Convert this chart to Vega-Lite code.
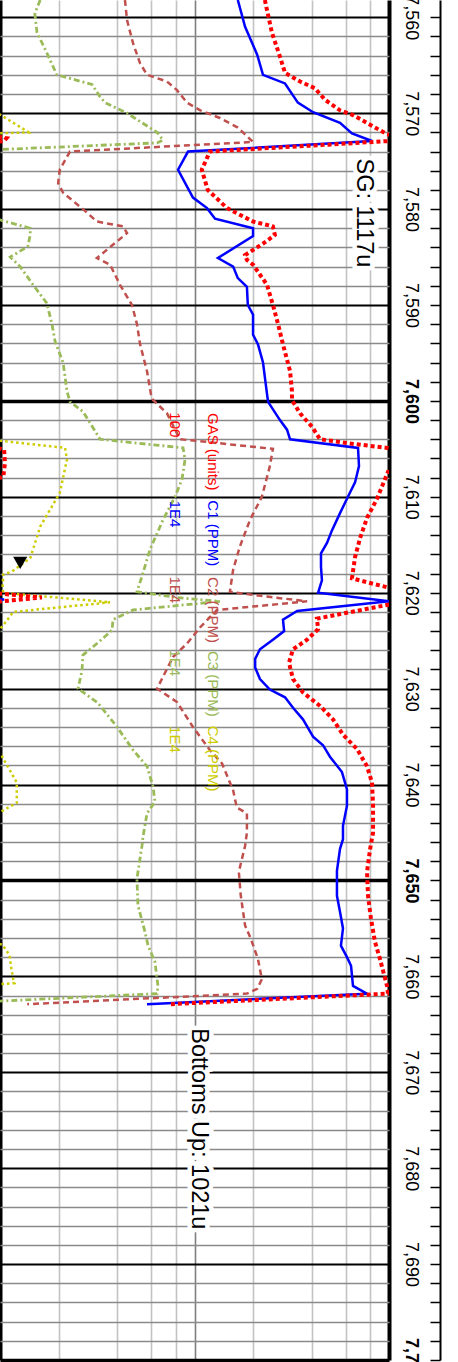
{
"$schema":"https://vega.github.io/schema/vega-lite/v6.json",
"width":389,"height":1360,
"autosize":{"type":"none"},
"padding":{"left":0,"top":0,"right":69,"bottom":2},
"background":"white",
"config":{"view":{"stroke":null},"font":"Liberation Sans","text":{"font":"Liberation Sans"}},
"datasets":{
"curves":[
{"s":"GAS","g":"a","d":7558.2,"v":23.0},{"s":"GAS","g":"a","d":7561.6,"v":25.0},{"s":"GAS","g":"a","d":7564.1,"v":27.5},{"s":"GAS","g":"a","d":7565.8,"v":29.2},{"s":"GAS","g":"a","d":7566.7,"v":34.9},{"s":"GAS","g":"a","d":7567.4,"v":41.6},{"s":"GAS","g":"a","d":7568.6,"v":46.9},{"s":"GAS","g":"a","d":7569.7,"v":56.0},{"s":"GAS","g":"a","d":7570.2,"v":65.3},{"s":"GAS","g":"a","d":7571.2,"v":80.0},{"s":"GAS","g":"a","d":7572.2,"v":97.7},{"s":"GAS","g":"a","d":7572.55,"v":120},{"s":"GAS","g":"a","d":7572.9,"v":101},{"s":"GAS","g":"a","d":7574.0,"v":12.0},{"s":"GAS","g":"a","d":7575.9,"v":10.9},{"s":"GAS","g":"a","d":7578.0,"v":11.7},{"s":"GAS","g":"a","d":7579.9,"v":14.7},{"s":"GAS","g":"a","d":7581.3,"v":20.0},{"s":"GAS","g":"a","d":7581.8,"v":25.3},{"s":"GAS","g":"a","d":7582.7,"v":25.9},{"s":"GAS","g":"a","d":7583.6,"v":22.5},{"s":"GAS","g":"a","d":7584.8,"v":18.2},{"s":"GAS","g":"a","d":7585.3,"v":18.6},{"s":"GAS","g":"a","d":7585.8,"v":20.0},{"s":"GAS","g":"a","d":7587.9,"v":23.6},{"s":"GAS","g":"a","d":7590.0,"v":25.3},{"s":"GAS","g":"a","d":7592.0,"v":26.9},{"s":"GAS","g":"a","d":7594.1,"v":28.5},{"s":"GAS","g":"a","d":7596.9,"v":31.0},{"s":"GAS","g":"a","d":7599.0,"v":31.7},{"s":"GAS","g":"a","d":7599.9,"v":31.7},{"s":"GAS","g":"a","d":7601.3,"v":34.9},{"s":"GAS","g":"a","d":7602.7,"v":40.2},{"s":"GAS","g":"a","d":7604.0,"v":44.2},{"s":"GAS","g":"a","d":7604.4,"v":60.8},{"s":"GAS","g":"a","d":7604.9,"v":97.7},{"s":"GAS","g":"a","d":7605.5,"v":130},{"s":"GAS","g":"a","d":7607.0,"v":130},{"s":"GAS","g":"a","d":7607.4,"v":98.8},{"s":"GAS","g":"a","d":7610.2,"v":86.8},{"s":"GAS","g":"a","d":7612.2,"v":77.1},{"s":"GAS","g":"a","d":7614.3,"v":71.0},{"s":"GAS","g":"a","d":7616.3,"v":66.9},{"s":"GAS","g":"a","d":7618.5,"v":64.5},{"s":"GAS","g":"a","d":7619.8,"v":115},{"s":"GAS","g":"a","d":7621.0,"v":115},{"s":"GAS","g":"a","d":7622.7,"v":42.6},{"s":"GAS","g":"a","d":7623.8,"v":43.2},{"s":"GAS","g":"a","d":7624.9,"v":37.9},{"s":"GAS","g":"a","d":7625.9,"v":32.1},{"s":"GAS","g":"a","d":7627.3,"v":30.6},{"s":"GAS","g":"a","d":7629.0,"v":32.1},{"s":"GAS","g":"a","d":7630.4,"v":36.1},{"s":"GAS","g":"a","d":7631.8,"v":44.2},{"s":"GAS","g":"a","d":7633.2,"v":51.5},{"s":"GAS","g":"a","d":7634.8,"v":58.0},{"s":"GAS","g":"a","d":7636.3,"v":68.5},{"s":"GAS","g":"a","d":7638.1,"v":77.1},{"s":"GAS","g":"a","d":7639.8,"v":81.8},{"s":"GAS","g":"a","d":7642.2,"v":82.8},{"s":"GAS","g":"a","d":7645.0,"v":82.8},{"s":"GAS","g":"a","d":7646.7,"v":80.0},{"s":"GAS","g":"a","d":7649.1,"v":77.1},{"s":"GAS","g":"a","d":7651.6,"v":78.0},{"s":"GAS","g":"a","d":7654.0,"v":80.8},{"s":"GAS","g":"a","d":7656.4,"v":84.7},{"s":"GAS","g":"a","d":7658.2,"v":89.9},{"s":"GAS","g":"a","d":7661.0,"v":97.7},{"s":"GAS","g":"a","d":7661.8,"v":98.8},{"s":"GAS","g":"a","d":7662.9,"v":7.48},
{"s":"GAS","g":"w1","d":7572.35,"v":0.9},{"s":"GAS","g":"w1","d":7572.6,"v":1.08},{"s":"GAS","g":"w1","d":7572.9,"v":1.05},{"s":"GAS","g":"w1","d":7573.1,"v":0.9},
{"s":"GAS","g":"w2","d":7604.7,"v":0.9},{"s":"GAS","g":"w2","d":7605.1,"v":1.05},{"s":"GAS","g":"w2","d":7606.5,"v":1.06},{"s":"GAS","g":"w2","d":7607.9,"v":1.04},{"s":"GAS","g":"w2","d":7608.3,"v":0.9},
{"s":"GAS","g":"w3","d":7620.0,"v":0.9},{"s":"GAS","g":"w3","d":7620.5,"v":1.64},{"s":"GAS","g":"w3","d":7621.0,"v":0.9},
{"s":"C1","g":"a","d":7558.2,"v":16.7},{"s":"C1","g":"a","d":7561.0,"v":18.2},{"s":"C1","g":"a","d":7563.9,"v":21.0},{"s":"C1","g":"a","d":7566.0,"v":22.5},{"s":"C1","g":"a","d":7566.9,"v":29.2},{"s":"C1","g":"a","d":7568.9,"v":34.0},{"s":"C1","g":"a","d":7569.9,"v":40.7},{"s":"C1","g":"a","d":7571.0,"v":56.0},{"s":"C1","g":"a","d":7572.1,"v":64.5},{"s":"C1","g":"a","d":7572.9,"v":81.8},{"s":"C1","g":"a","d":7574.0,"v":9.26},{"s":"C1","g":"a","d":7575.9,"v":8.23},{"s":"C1","g":"a","d":7578.8,"v":9.82},{"s":"C1","g":"a","d":7579.9,"v":11.6},{"s":"C1","g":"a","d":7581.0,"v":12.75},{"s":"C1","g":"a","d":7582.0,"v":20.0},{"s":"C1","g":"a","d":7582.8,"v":20.0},{"s":"C1","g":"a","d":7585.1,"v":13.2},{"s":"C1","g":"a","d":7586.0,"v":15.8},{"s":"C1","g":"a","d":7587.2,"v":16.7},{"s":"C1","g":"a","d":7588.1,"v":18.6},{"s":"C1","g":"a","d":7590.0,"v":18.8},{"s":"C1","g":"a","d":7591.0,"v":20.0},{"s":"C1","g":"a","d":7593.1,"v":20.0},{"s":"C1","g":"a","d":7594.1,"v":21.2},{"s":"C1","g":"a","d":7596.0,"v":22.5},{"s":"C1","g":"a","d":7599.3,"v":23.6},{"s":"C1","g":"a","d":7600.1,"v":23.9},{"s":"C1","g":"a","d":7602.0,"v":27.5},{"s":"C1","g":"a","d":7603.0,"v":29.9},{"s":"C1","g":"a","d":7604.0,"v":31.0},{"s":"C1","g":"a","d":7604.9,"v":69.3},{"s":"C1","g":"a","d":7606.8,"v":70.1},{"s":"C1","g":"a","d":7608.5,"v":66.9},{"s":"C1","g":"a","d":7610.0,"v":61.5},{"s":"C1","g":"a","d":7611.7,"v":56.0},{"s":"C1","g":"a","d":7613.5,"v":50.9},{"s":"C1","g":"a","d":7614.8,"v":48.0},{"s":"C1","g":"a","d":7615.9,"v":44.7},{"s":"C1","g":"a","d":7617.3,"v":44.7},{"s":"C1","g":"a","d":7618.7,"v":45.2},{"s":"C1","g":"a","d":7620.0,"v":43.2},{"s":"C1","g":"a","d":7620.9,"v":100},{"s":"C1","g":"a","d":7621.9,"v":33.7},{"s":"C1","g":"a","d":7622.8,"v":28.5},{"s":"C1","g":"a","d":7624.0,"v":28.9},{"s":"C1","g":"a","d":7624.9,"v":25.3},{"s":"C1","g":"a","d":7625.9,"v":21.7},{"s":"C1","g":"a","d":7626.9,"v":20.5},{"s":"C1","g":"a","d":7627.8,"v":20.5},{"s":"C1","g":"a","d":7629.0,"v":21.7},{"s":"C1","g":"a","d":7630.1,"v":24.4},{"s":"C1","g":"a","d":7630.9,"v":29.2},{"s":"C1","g":"a","d":7632.0,"v":32.1},{"s":"C1","g":"a","d":7633.2,"v":36.1},{"s":"C1","g":"a","d":7635.0,"v":40.7},{"s":"C1","g":"a","d":7635.9,"v":45.8},{"s":"C1","g":"a","d":7637.1,"v":49.7},{"s":"C1","g":"a","d":7638.7,"v":57.3},{"s":"C1","g":"a","d":7640.5,"v":60.8},{"s":"C1","g":"a","d":7642.2,"v":60.8},{"s":"C1","g":"a","d":7644.3,"v":58.0},{"s":"C1","g":"a","d":7645.7,"v":58.0},{"s":"C1","g":"a","d":7646.7,"v":56.0},{"s":"C1","g":"a","d":7649.0,"v":54.0},{"s":"C1","g":"a","d":7651.6,"v":54.0},{"s":"C1","g":"a","d":7653.3,"v":56.0},{"s":"C1","g":"a","d":7655.0,"v":58.0},{"s":"C1","g":"a","d":7656.8,"v":56.6},{"s":"C1","g":"a","d":7658.0,"v":60.8},{"s":"C1","g":"a","d":7658.9,"v":63.8},{"s":"C1","g":"a","d":7661.0,"v":65.3},{"s":"C1","g":"a","d":7661.8,"v":77.1},{"s":"C1","g":"a","d":7662.9,"v":5.70},
{"s":"C1","g":"w1","d":7620.6,"v":0.9},{"s":"C1","g":"w1","d":7620.7,"v":1.05},{"s":"C1","g":"w1","d":7620.8,"v":0.9},
{"s":"C2","g":"a","d":7558.2,"v":4.39},{"s":"C2","g":"a","d":7560.3,"v":4.50},{"s":"C2","g":"a","d":7562.7,"v":4.83},{"s":"C2","g":"a","d":7564.8,"v":5.25},{"s":"C2","g":"a","d":7566.0,"v":5.70},{"s":"C2","g":"a","d":7566.7,"v":7.22},{"s":"C2","g":"a","d":7567.6,"v":8.13},{"s":"C2","g":"a","d":7568.9,"v":9.15},{"s":"C2","g":"a","d":7569.7,"v":10.7},{"s":"C2","g":"a","d":7570.5,"v":13.5},{"s":"C2","g":"a","d":7571.5,"v":16.7},{"s":"C2","g":"a","d":7573.0,"v":20.0},{"s":"C2","g":"a","d":7574.0,"v":2.29},{"s":"C2","g":"a","d":7575.9,"v":2.03},{"s":"C2","g":"a","d":7577.3,"v":1.99},{"s":"C2","g":"a","d":7578.3,"v":2.11},{"s":"C2","g":"a","d":7580.0,"v":2.67},{"s":"C2","g":"a","d":7581.3,"v":3.15},{"s":"C2","g":"a","d":7581.8,"v":4.29},{"s":"C2","g":"a","d":7582.5,"v":4.50},{"s":"C2","g":"a","d":7585.1,"v":3.15},{"s":"C2","g":"a","d":7585.8,"v":3.68},{"s":"C2","g":"a","d":7587.9,"v":4.14},{"s":"C2","g":"a","d":7590.0,"v":4.77},{"s":"C2","g":"a","d":7592.0,"v":5.06},{"s":"C2","g":"a","d":7594.1,"v":5.25},{"s":"C2","g":"a","d":7596.9,"v":5.70},{"s":"C2","g":"a","d":7599.3,"v":5.97},{"s":"C2","g":"a","d":7599.9,"v":6.12},{"s":"C2","g":"a","d":7601.3,"v":7.22},{"s":"C2","g":"a","d":7604.0,"v":8.42},{"s":"C2","g":"a","d":7604.2,"v":10.7},{"s":"C2","g":"a","d":7604.5,"v":14.7},{"s":"C2","g":"a","d":7605.0,"v":25.3},{"s":"C2","g":"a","d":7606.8,"v":24.4},{"s":"C2","g":"a","d":7610.0,"v":22.2},{"s":"C2","g":"a","d":7612.4,"v":19.3},{"s":"C2","g":"a","d":7615.2,"v":17.1},{"s":"C2","g":"a","d":7617.6,"v":15.8},{"s":"C2","g":"a","d":7619.9,"v":15.2},{"s":"C2","g":"a","d":7620.4,"v":23.6},{"s":"C2","g":"a","d":7620.9,"v":37.9},{"s":"C2","g":"a","d":7621.8,"v":13.05},{"s":"C2","g":"a","d":7623.6,"v":10.7},{"s":"C2","g":"a","d":7625.3,"v":9.15},{"s":"C2","g":"a","d":7626.7,"v":7.75},{"s":"C2","g":"a","d":7630.0,"v":6.42},{"s":"C2","g":"a","d":7631.4,"v":8.13},{"s":"C2","g":"a","d":7634.0,"v":9.82},{"s":"C2","g":"a","d":7636.4,"v":12.0},{"s":"C2","g":"a","d":7637.8,"v":13.85},{"s":"C2","g":"a","d":7640.6,"v":15.8},{"s":"C2","g":"a","d":7642.4,"v":16.5},{"s":"C2","g":"a","d":7643.0,"v":18.6},{"s":"C2","g":"a","d":7645.0,"v":18.6},{"s":"C2","g":"a","d":7646.4,"v":18.2},{"s":"C2","g":"a","d":7649.1,"v":16.9},{"s":"C2","g":"a","d":7651.6,"v":17.3},{"s":"C2","g":"a","d":7654.7,"v":18.2},{"s":"C2","g":"a","d":7656.1,"v":19.5},{"s":"C2","g":"a","d":7658.2,"v":21.2},{"s":"C2","g":"a","d":7660.3,"v":22.2},{"s":"C2","g":"a","d":7661.3,"v":21.0},{"s":"C2","g":"a","d":7661.8,"v":18.6},{"s":"C2","g":"a","d":7662.9,"v":1.38},
{"s":"C3","g":"a","d":7558.2,"v":1.61},{"s":"C3","g":"a","d":7559.6,"v":1.51},{"s":"C3","g":"a","d":7561.6,"v":1.55},{"s":"C3","g":"a","d":7563.7,"v":1.74},{"s":"C3","g":"a","d":7566.0,"v":1.96},{"s":"C3","g":"a","d":7567.0,"v":2.97},{"s":"C3","g":"a","d":7568.3,"v":3.27},{"s":"C3","g":"a","d":7568.9,"v":3.47},{"s":"C3","g":"a","d":7570.0,"v":4.50},{"s":"C3","g":"a","d":7572.0,"v":6.42},{"s":"C3","g":"a","d":7572.8,"v":6.89},{"s":"C3","g":"a","d":7573.1,"v":6.42},{"s":"C3","g":"a","d":7573.8,"v":0.97},{"s":"C3","g":"a","d":7574.2,"v":0.85},{"s":"C3","g":"a","d":7580.8,"v":0.85},{"s":"C3","g":"a","d":7581.0,"v":0.95},{"s":"C3","g":"a","d":7582.0,"v":1.43},{"s":"C3","g":"a","d":7582.7,"v":1.43},{"s":"C3","g":"a","d":7583.9,"v":1.39},{"s":"C3","g":"a","d":7585.0,"v":1.13},{"s":"C3","g":"a","d":7586.0,"v":1.27},{"s":"C3","g":"a","d":7587.9,"v":1.48},{"s":"C3","g":"a","d":7589.8,"v":1.74},{"s":"C3","g":"a","d":7592.0,"v":1.85},{"s":"C3","g":"a","d":7593.8,"v":1.92},{"s":"C3","g":"a","d":7596.0,"v":2.11},{"s":"C3","g":"a","d":7599.0,"v":2.21},{"s":"C3","g":"a","d":7600.1,"v":2.29},{"s":"C3","g":"a","d":7601.1,"v":2.67},{"s":"C3","g":"a","d":7604.0,"v":3.27},{"s":"C3","g":"a","d":7604.9,"v":8.73},{"s":"C3","g":"a","d":7606.1,"v":8.94},{"s":"C3","g":"a","d":7608.2,"v":8.62},{"s":"C3","g":"a","d":7610.0,"v":7.94},{"s":"C3","g":"a","d":7612.4,"v":6.89},{"s":"C3","g":"a","d":7615.5,"v":5.90},{"s":"C3","g":"a","d":7618.3,"v":5.37},{"s":"C3","g":"a","d":7619.9,"v":5.06},{"s":"C3","g":"a","d":7620.5,"v":8.13},{"s":"C3","g":"a","d":7620.9,"v":13.5},{"s":"C3","g":"a","d":7621.8,"v":4.83},{"s":"C3","g":"a","d":7622.8,"v":3.81},{"s":"C3","g":"a","d":7623.9,"v":3.77},{"s":"C3","g":"a","d":7625.3,"v":3.15},{"s":"C3","g":"a","d":7626.5,"v":2.67},{"s":"C3","g":"a","d":7628.1,"v":2.64},{"s":"C3","g":"a","d":7630.0,"v":2.52},{"s":"C3","g":"a","d":7631.5,"v":3.19},{"s":"C3","g":"a","d":7634.0,"v":4.00},{"s":"C3","g":"a","d":7636.4,"v":4.83},{"s":"C3","g":"a","d":7638.1,"v":5.70},{"s":"C3","g":"a","d":7640.2,"v":6.12},{"s":"C3","g":"a","d":7641.8,"v":6.26},{"s":"C3","g":"a","d":7643.0,"v":5.70},{"s":"C3","g":"a","d":7645.4,"v":5.44},{"s":"C3","g":"a","d":7646.4,"v":5.37},{"s":"C3","g":"a","d":7649.8,"v":5.06},{"s":"C3","g":"a","d":7652.6,"v":5.12},{"s":"C3","g":"a","d":7655.4,"v":5.57},{"s":"C3","g":"a","d":7656.8,"v":5.77},{"s":"C3","g":"a","d":7658.5,"v":6.26},{"s":"C3","g":"a","d":7661.0,"v":6.49},{"s":"C3","g":"a","d":7661.8,"v":6.42},{"s":"C3","g":"a","d":7662.6,"v":0.95},
{"s":"C4","g":"a","d":7558.2,"v":0.9},{"s":"C4","g":"a","d":7570.0,"v":0.9},{"s":"C4","g":"a","d":7570.15,"v":1.0},{"s":"C4","g":"a","d":7571.9,"v":1.38},{"s":"C4","g":"a","d":7572.0,"v":1.40},{"s":"C4","g":"a","d":7572.1,"v":1.0},{"s":"C4","g":"a","d":7572.3,"v":0.9},{"s":"C4","g":"a","d":7604.0,"v":0.9},{"s":"C4","g":"a","d":7604.15,"v":1.0},{"s":"C4","g":"a","d":7604.9,"v":2.16},{"s":"C4","g":"a","d":7606.1,"v":2.21},{"s":"C4","g":"a","d":7609.6,"v":2.03},{"s":"C4","g":"a","d":7613.1,"v":1.61},{"s":"C4","g":"a","d":7616.4,"v":1.43},{"s":"C4","g":"a","d":7617.8,"v":1.15},{"s":"C4","g":"a","d":7618.1,"v":1.04},{"s":"C4","g":"a","d":7619.5,"v":1.03},{"s":"C4","g":"a","d":7620.0,"v":1.04},{"s":"C4","g":"a","d":7621.0,"v":3.68},{"s":"C4","g":"a","d":7622.0,"v":1.17},{"s":"C4","g":"a","d":7623.5,"v":1.03},{"s":"C4","g":"a","d":7624.2,"v":0.95},{"s":"C4","g":"a","d":7624.6,"v":0.9},{"s":"C4","g":"a","d":7636.8,"v":0.9},{"s":"C4","g":"a","d":7637.0,"v":1.02},{"s":"C4","g":"a","d":7639.8,"v":1.22},{"s":"C4","g":"a","d":7641.9,"v":1.22},{"s":"C4","g":"a","d":7642.6,"v":1.06},{"s":"C4","g":"a","d":7643.1,"v":0.95},{"s":"C4","g":"a","d":7643.4,"v":0.9},{"s":"C4","g":"a","d":7656.5,"v":0.9},{"s":"C4","g":"a","d":7656.7,"v":1.03},{"s":"C4","g":"a","d":7657.8,"v":1.12},{"s":"C4","g":"a","d":7659.0,"v":1.14},{"s":"C4","g":"a","d":7660.3,"v":1.17},{"s":"C4","g":"a","d":7660.7,"v":1.19},{"s":"C4","g":"a","d":7660.8,"v":1.03},{"s":"C4","g":"a","d":7660.9,"v":0.9}
],
"labels":[
{"t":"100","s":"GAS","v":7.94,"d":7602.5},{"t":"GAS (units)","s":"GAS","v":12.4,"d":7605.3},
{"t":"1E4","s":"C1","v":7.94,"d":7611.8},{"t":"C1 (PPM)","s":"C1","v":12.4,"d":7613.8},
{"t":"1E4","s":"C2","v":7.94,"d":7619.7},{"t":"C2 (PPM)","s":"C2","v":12.4,"d":7621.8},
{"t":"1E4","s":"C3","v":7.94,"d":7627.3},{"t":"C3 (PPM)","s":"C3","v":12.4,"d":7629.5},
{"t":"1E4","s":"C4","v":7.94,"d":7635.3},{"t":"C4 (PPM)","s":"C4","v":12.4,"d":7637.3}
],
"notes":[{"t":"SG: 1117u","v":74.4,"d":7580.4},{"t":"Bottoms Up: 1021u","v":10.5,"d":7675.9}],
"marker":[{"v":1.27,"d":7616.9}]
},
"encoding":{
"x":{"field":"v","type":"quantitative","title":null,
 "scale":{"type":"log","domain":[1,100],"nice":false},
 "axis":{"orient":"bottom","title":null,"values":[1,2,4,6,8,10,20,40,60,80,100],"labels":false,"ticks":false,"domain":false,"grid":true,
  "gridColor":{"condition":[{"test":"datum.value === 1 || datum.value === 100","value":"black"},{"test":"datum.value === 10","value":"#7f7f7f"}],"value":"#c3c3c3"},
  "gridWidth":{"condition":{"test":"datum.value === 1 || datum.value === 100","value":4},"value":1.6}}},
"y":{"field":"d","type":"quantitative","title":null,
 "scale":{"domain":[7558.2,7700],"reverse":true,"nice":false,"zero":false},
 "axis":{"orient":"right","offset":51,"title":null,
  "values":[7560,7562,7564,7566,7568,7570,7572,7574,7576,7578,7580,7582,7584,7586,7588,7590,7592,7594,7596,7598,7600,7602,7604,7606,7608,7610,7612,7614,7616,7618,7620,7622,7624,7626,7628,7630,7632,7634,7636,7638,7640,7642,7644,7646,7648,7650,7652,7654,7656,7658,7660,7662,7664,7666,7668,7670,7672,7674,7676,7678,7680,7682,7684,7686,7688,7690,7692,7694,7696,7698,7700],
  "domain":true,"domainColor":"black","domainWidth":2,
  "ticks":true,"tickSize":-10,"tickColor":"black","tickWidth":1.5,
  "labelPadding":-20,"labelAngle":90,"labelAlign":"center","labelBaseline":"middle",
  "labelExpr":"datum.value % 10 === 0 ? format(datum.value, ',') : ''",
  "labelFontSize":18,"labelFont":"Liberation Sans","labelColor":"black",
  "labelFontWeight":{"condition":{"test":"datum.value % 50 === 0","value":"bold"},"value":"normal"},
  "labelOverlap":false,"labelFlush":false,"labelBound":false,
  "grid":true,
  "gridColor":{"condition":{"test":"datum.value % 10 === 0","value":"black"},"value":"#8a8a8a"},
  "gridWidth":{"condition":[{"test":"datum.value % 50 === 0","value":3.5},{"test":"datum.value % 10 === 0","value":2}],"value":1.3}}}
},
"layer":[
{"data":{"name":"curves"},"transform":[{"filter":"datum.s === 'C4'"}],"mark":{"type":"line","clip":true,"strokeWidth":2.5,"strokeDash":[2.5,3],"color":"#cccc00"},"encoding":{"detail":{"field":"g"},"order":{"field":"d","type":"quantitative"}}},
{"data":{"name":"curves"},"transform":[{"filter":"datum.s === 'C3'"}],"mark":{"type":"line","clip":true,"strokeWidth":2.8,"strokeDash":[6,3,2,3],"color":"#9bbb59"},"encoding":{"detail":{"field":"g"},"order":{"field":"d","type":"quantitative"}}},
{"data":{"name":"curves"},"transform":[{"filter":"datum.s === 'C2'"}],"mark":{"type":"line","clip":true,"strokeWidth":2.5,"strokeDash":[6,4],"color":"#c0504d"},"encoding":{"detail":{"field":"g"},"order":{"field":"d","type":"quantitative"}}},
{"data":{"name":"curves"},"transform":[{"filter":"datum.s === 'C1'"}],"mark":{"type":"line","clip":true,"strokeWidth":2.5,"color":"#0000ff"},"encoding":{"detail":{"field":"g"},"order":{"field":"d","type":"quantitative"}}},
{"data":{"name":"curves"},"transform":[{"filter":"datum.s === 'GAS'"}],"mark":{"type":"line","clip":true,"strokeWidth":4,"strokeDash":[4,3],"color":"#ff0000"},"encoding":{"detail":{"field":"g"},"order":{"field":"d","type":"quantitative"}}},
{"data":{"name":"labels"},"mark":{"type":"text","angle":90,"align":"center","baseline":"middle","fontSize":15,"font":"Liberation Sans"},
 "encoding":{"text":{"field":"t"},"color":{"field":"s","type":"nominal","legend":null,"scale":{"domain":["GAS","C1","C2","C3","C4"],"range":["#ff0000","#0000ff","#c0504d","#9bbb59","#cccc00"]}}}},
{"data":{"name":"notes"},"mark":{"type":"text","angle":90,"align":"center","baseline":"middle","fontSize":23.5,"font":"Liberation Sans","fill":"white","stroke":"white","strokeWidth":9},"encoding":{"text":{"field":"t"}}},
{"data":{"name":"notes"},"mark":{"type":"text","angle":90,"align":"center","baseline":"middle","fontSize":23.5,"font":"Liberation Sans","color":"black"},"encoding":{"text":{"field":"t"}}},
{"data":{"name":"marker"},"mark":{"type":"point","shape":"triangle-down","filled":true,"color":"black","size":200,"opacity":1},"encoding":{}}
]
}
